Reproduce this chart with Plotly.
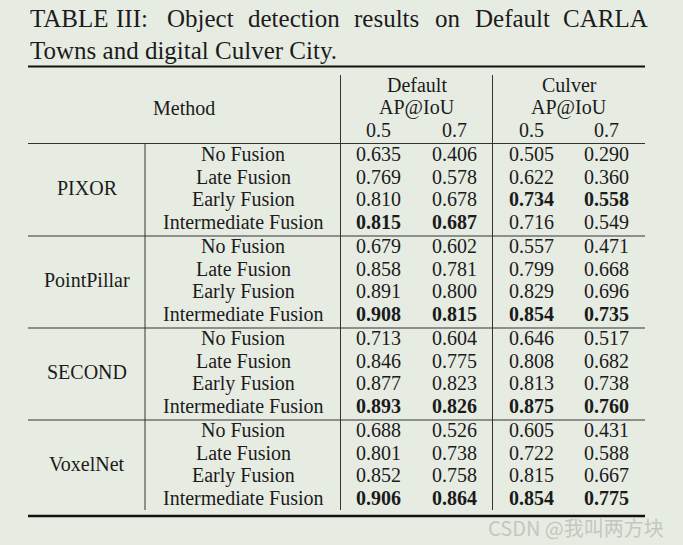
import plotly.graph_objects as go

# ---------------- data ----------------
methods = ["PIXOR", "PointPillar", "SECOND", "VoxelNet"]
fusions = ["No Fusion", "Late Fusion", "Early Fusion", "Intermediate Fusion"]
default_05 = [[0.635, 0.769, 0.810, 0.815],
              [0.679, 0.858, 0.891, 0.908],
              [0.713, 0.846, 0.877, 0.893],
              [0.688, 0.801, 0.852, 0.906]]
default_07 = [[0.406, 0.578, 0.678, 0.687],
              [0.602, 0.781, 0.800, 0.815],
              [0.604, 0.775, 0.823, 0.826],
              [0.526, 0.738, 0.758, 0.864]]
culver_05 = [[0.505, 0.622, 0.734, 0.716],
             [0.557, 0.799, 0.829, 0.854],
             [0.646, 0.808, 0.813, 0.875],
             [0.605, 0.722, 0.815, 0.854]]
culver_07 = [[0.290, 0.360, 0.558, 0.549],
             [0.471, 0.668, 0.696, 0.735],
             [0.517, 0.682, 0.738, 0.760],
             [0.431, 0.588, 0.667, 0.775]]
iou_labels = ["0.5", "0.7"]
datasets = ["Default", "Culver"]
title_line1 = ["TABLE", "III:", "Object", "detection", "results", "on", "Default", "CARLA"]
title_line2 = "Towns and digital Culver City."
watermark = "CSDN @我叫两方块"

# ---------------- layout ----------------
W, H = 683, 545
BG = "#E7ECE3"
INK = "#1b1b1b"
SERIF = "Liberation Serif, Times New Roman, serif"
FS = 20

X_LEFT, X_RIGHT = 28, 645
X_VGROUP, X_V1, X_V2 = 145, 340.5, 492.5
X_GROUP, X_FUSION = 87, 243
X_COLS = [378.5, 454.5, 531.5, 606.5]
Y0, ROW, GROUP = 154, 22.6, 92

fig = go.Figure()
ann = []
shapes = []


def txt(x, y, s, size=FS, anchor="center", family=SERIF, color=INK):
    ann.append(dict(x=x, y=y, xref="x", yref="y", text=s, showarrow=False,
                    xanchor=anchor, yanchor="middle",
                    font=dict(family=family, size=size, color=color)))


def hline(y, x0=X_LEFT, x1=X_RIGHT, w=1, color="#333333"):
    shapes.append(dict(type="line", xref="x", yref="y", x0=x0, x1=x1, y0=y, y1=y,
                       line=dict(color=color, width=w)))


def vline(x, y0, y1, w=1, color="#333333"):
    shapes.append(dict(type="line", xref="x", yref="y", x0=x, x1=x, y0=y0, y1=y1,
                       line=dict(color=color, width=w)))


# title (justified line 1)
word_x = [28.3, 114, 165, 246, 352, 432.5, 472.5, 560.5]
for wx, w in zip(word_x, title_line1):
    txt(wx, 18.5, w, size=25, anchor="left")
txt(28.3, 50, title_line2, size=25, anchor="left")

# rules
hline(66.5, w=2.2, color="#111111")
hline(143.5)
for g in range(1, len(methods)):
    hline(144 + g * GROUP)
hline(516, w=2.4, color="#111111")
vline(X_V1, 75, 510)
vline(X_V2, 75, 510)
vline(X_VGROUP, 144, 510)

# header
txt(184, 108, "Method")
for d, name in enumerate(datasets):
    cx = (X_COLS[2 * d] + X_COLS[2 * d + 1]) / 2
    txt(cx, 85, name)
    txt(cx, 107.5, "AP@IoU")
    for k, lab in enumerate(iou_labels):
        txt(X_COLS[2 * d + k], 130, lab)

# body
cols = [default_05, default_07, culver_05, culver_07]
for g, m in enumerate(methods):
    ys = [Y0 + g * GROUP + r * ROW for r in range(len(fusions))]
    txt(X_GROUP, (ys[1] + ys[2]) / 2, m)
    for r, f in enumerate(fusions):
        txt(X_FUSION, ys[r], f)
    for c, col in enumerate(cols):
        best = max(col[g])
        for r, v in enumerate(col[g]):
            s = f"{v:.3f}"
            if v == best:
                s = f"<b>{s}</b>"
            txt(X_COLS[c], ys[r], s)

# watermark
txt(666, 527, watermark, size=20, anchor="right",
    family="Noto Sans CJK SC, Noto Sans, sans-serif", color="#c4c6c2")

fig.update_layout(
    width=W, height=H, margin=dict(l=0, r=0, t=0, b=0),
    paper_bgcolor=BG, plot_bgcolor=BG,
    xaxis=dict(range=[0, W], visible=False, fixedrange=True),
    yaxis=dict(range=[H, 0], visible=False, fixedrange=True),
    annotations=ann, shapes=shapes, showlegend=False,
)
fig.write_html("out.html", config=dict(displayModeBar=False),
               post_script="document.body.style.margin='0';document.body.style.overflow='hidden';")
